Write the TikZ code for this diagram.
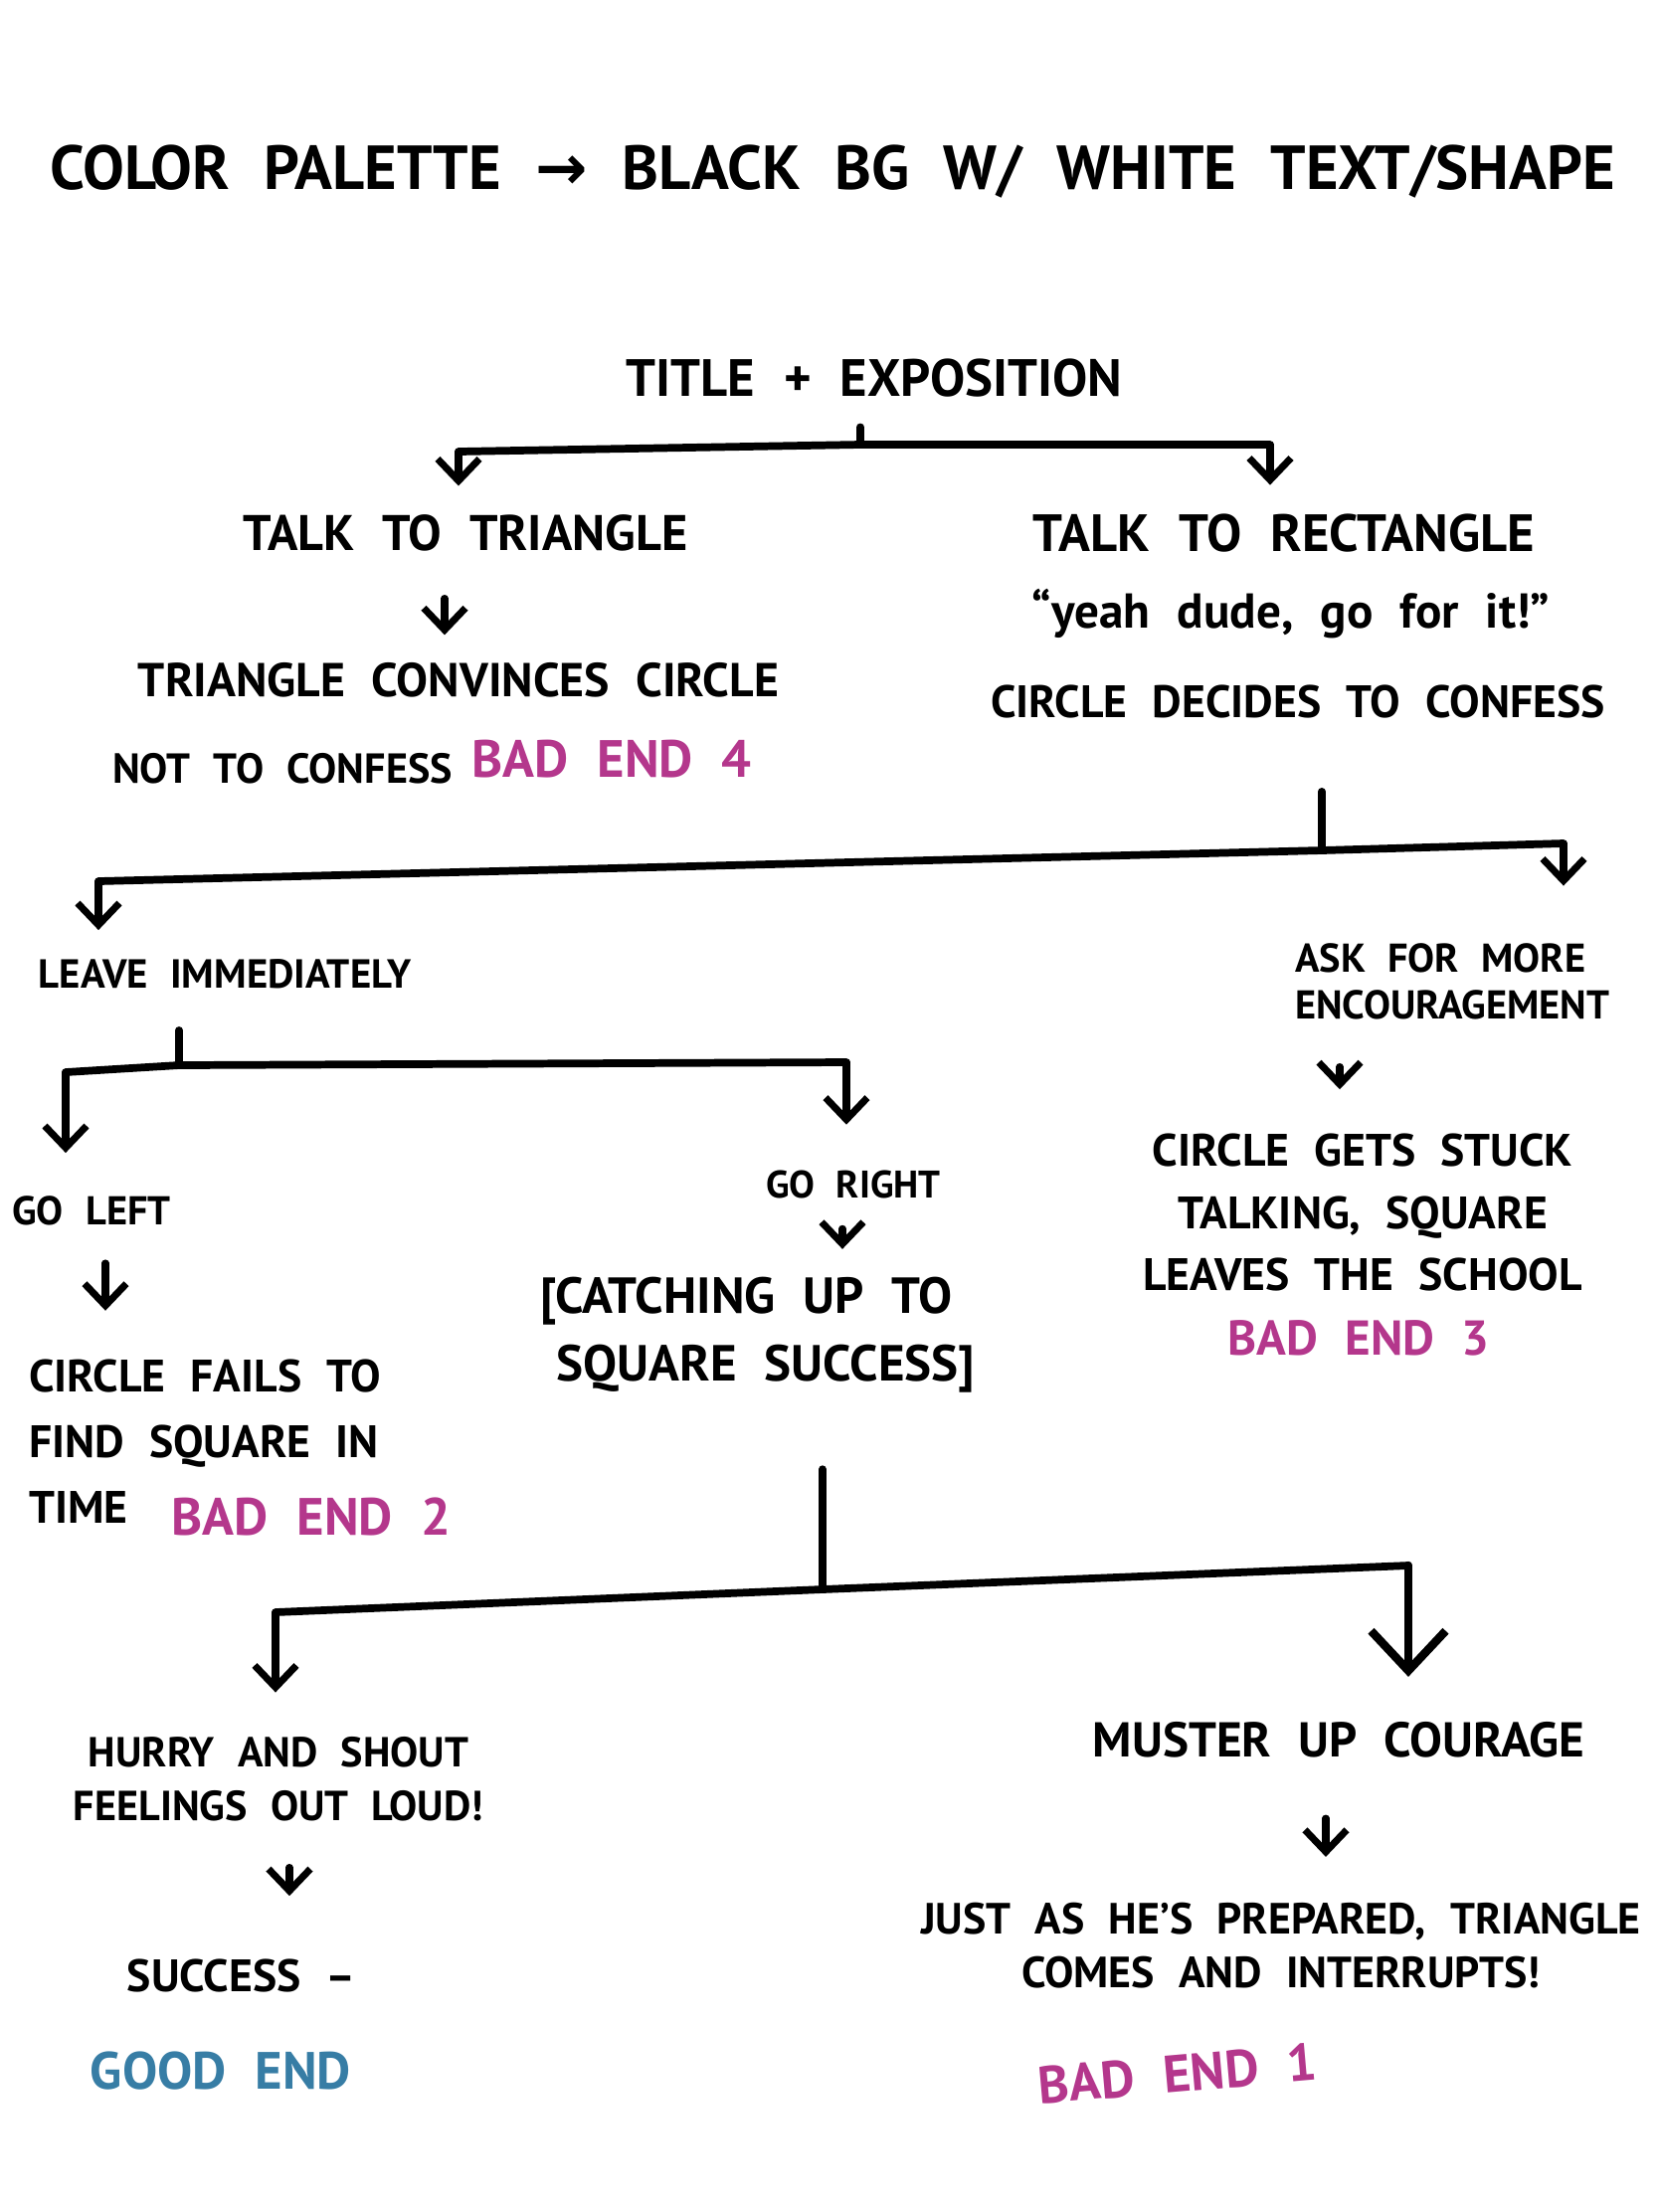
\documentclass[tikz,border=0pt]{standalone}
\usepackage{fontspec}
\setmainfont{PT Sans}
\newfontfamily\arrowfont{DejaVu Sans}
\usepackage{tikz}
\usetikzlibrary{arrows.meta,positioning,calc}
\definecolor{endpink}{RGB}{180,55,140}
\definecolor{endblue}{RGB}{55,125,165}
\tikzset{
    scene/.style 2 args={font={\bfseries\fontsize{#1}{#2}\selectfont\spaceskip=0.55em\relax}, inner sep=1pt, align=center},
    badend/.style={scene={15}{18}, text=endpink},
    goodend/.style={scene={15}{18}, text=endblue},
    bar/.style={line width=2.2pt, line cap=round, line join=round},
    pick/.style={line width=2pt, line cap=round, shorten >=4mm, -{Straight Barb[length=2.2mm,width=4.2mm]}},
    bigpick/.style={pick, line width=2.4pt, -{Straight Barb[length=4mm,width=7.5mm]}},
}

\begin{document}
\begin{tikzpicture}
    \path[use as bounding box, fill=white] (0,0) rectangle (16.68,-22.24);
    % heading
    \node[scene={17.8}{22}] (palette) at (8.37,-1.73) {COLOR PALETTE {\arrowfont →} BLACK BG W/ WHITE TEXT/SHAPE};

    % first choice
    \node[scene={15}{18}] (expo) at (8.79,-3.80) {TITLE + EXPOSITION};
    \coordinate (b1M) at (8.65,-4.47);
    \coordinate (b1L) at (4.61,-4.54);
    \coordinate (b1R) at (12.77,-4.47);
    \draw[bar, shorten <=2.6mm] (expo.south -| b1M) -- (b1M);
    \draw[bar] (b1L) -- (b1M) -- (b1R);

    \node[scene={14.3}{18}] (talkT) at (4.68,-5.36) {TALK TO TRIANGLE};
    \node[scene={13.6}{18}] (convince) at (4.61,-6.84) {TRIANGLE CONVINCES CIRCLE};
    \node[scene={12}{18}] (notconf) at (2.84,-7.73) {NOT TO CONFESS};
    \node[badend] (bad4) at (6.15,-7.63) {BAD END 4};
    \draw[pick, shorten >=2.5mm] (b1L) -- (b1L |- talkT.north);
    \draw[pick, shorten <=4.3mm, shorten >=2.4mm] ($(talkT.south)+(-0.21,0)$) -- ($(talkT.south |- convince.north)+(-0.21,0)$);

    \node[scene={15}{18}] (talkR) at (12.91,-5.36) {TALK TO RECTANGLE};
    \node[scene={14}{18}] (yeah) at (12.98,-6.17) {“yeah dude, go for it!”};
    \node[scene={13}{18}] (decides) at (13.05,-7.05) {CIRCLE DECIDES TO CONFESS};
    \draw[pick, shorten >=2.5mm] (b1R) -- (b1R |- talkR.north);

    % confess branch
    \coordinate (b2M) at (13.29,-8.55);
    \coordinate (b2L) at (0.99,-8.86);
    \coordinate (b2R) at (15.72,-8.48);
    \draw[bar, shorten <=7mm] (decides.south -| b2M) -- (b2M);
    \draw[bar] (b2L) -- (b2M) -- (b2R);

    \node[scene={11.6}{16}] (leave) at (2.26,-9.79) {LEAVE IMMEDIATELY};
    \node[scene={11.5}{13.4}, anchor=west, align=left] (askmore) at (12.98,-9.87) {ASK FOR MORE\\ENCOURAGEMENT};
    \draw[pick, shorten >=2.5mm] (b2L) -- (b2L |- leave.north);
    \draw[pick, shorten >=5.4mm] (b2R) -- (b2R |- askmore.north);

    \node[scene={13}{17.9}] (stuck) at (13.70,-12.19) {CIRCLE GETS STUCK\\TALKING, SQUARE\\LEAVES THE SCHOOL};
    \node[scene={14}{18}, text=endpink] (bad3) at (13.66,-13.45) {BAD END 3};
    \draw[pick, shorten <=4.3mm] ($(askmore.south west)+(0.49,0)$) -- ($(askmore.south west |- stuck.north)+(0.49,0)$);

    % leave branch
    \coordinate (b3M) at (1.80,-10.71);
    \coordinate (b3L) at (0.66,-10.78);
    \coordinate (b3R) at (8.51,-10.68);
    \draw[bar, shorten <=3.8mm] (leave.south -| b3M) -- (b3M);
    \draw[bar] (b3L) -- (b3M) -- (b3R);

    \node[scene={11.5}{16}] (goleft) at (0.92,-12.17) {GO LEFT};
    \node[scene={13}{18.7}, anchor=west, align=left] (fails) at (0.25,-14.49) {CIRCLE FAILS TO\\FIND SQUARE IN\\TIME};
    \node[badend] (bad2) at (3.13,-15.25) {BAD END 2};
    \draw[pick, shorten >=3.9mm] (b3L) -- (b3L |- goleft.north);
    \draw[pick, shorten <=3.4mm, shorten >=4.5mm] ($(goleft.south)+(0.14,0)$) -- ($(goleft.south |- fails.north)+(0.14,0)$);

    \node[scene={11}{16}] (goright) at (8.58,-11.91) {GO RIGHT};
    \node[scene={14.5}{19.3}, anchor=west, align=left] (catch) at (5.39,-13.42) {[CATCHING UP TO\\\phantom{[}SQUARE SUCCESS]};
    \draw[pick, shorten >=4.2mm] (b3R) -- (b3R |- goright.north);
    \draw[pick, shorten <=2.6mm, shorten >=2.4mm] ($(goright.south)+(-0.11,0)$) -- ($(goright.south |- catch.north)+(-0.11,0)$);

    % catching up branch
    \coordinate (b4M) at (8.27,-15.98);
    \coordinate (b4L) at (2.77,-16.21);
    \coordinate (b4R) at (14.16,-15.74);
    \draw[bar, shorten <=7.3mm] (catch.south -| b4M) -- (b4M);
    \draw[bar] (b4L) -- (b4M) -- (b4R);

    \node[scene={12}{15.3}] (hurry) at (2.80,-17.89) {HURRY AND SHOUT\\FEELINGS OUT LOUD!};
    \node[scene={13}{18}] (success) at (2.43,-19.86) {SUCCESS --};
    \node[goodend] (good) at (2.22,-20.82) {GOOD END};
    \draw[pick, shorten >=4.1mm] (b4L) -- (b4L |- hurry.north);
    \draw[pick, shorten <=4.2mm, shorten >=5.9mm] ($(hurry.south)+(0.11,0)$) -- ($(hurry.south |- success.north)+(0.11,0)$);

    \node[scene={14}{18}] (muster) at (13.46,-17.49) {MUSTER UP COURAGE};
    \node[scene={12.5}{15.3}] (prepared) at (12.88,-19.56) {JUST AS HE’S PREPARED, TRIANGLE\\COMES AND INTERRUPTS!};
    \node[badend, rotate=5] (bad1) at (11.84,-20.85) {BAD END 1};
    \draw[bigpick, shorten >=4.1mm] (b4R) -- (b4R |- muster.north);
    \draw[pick, shorten <=5.7mm, shorten >=4.2mm] ($(muster.south)+(-0.13,0)$) -- ($(muster.south |- prepared.north)+(-0.13,0)$);
\end{tikzpicture}
\end{document}
